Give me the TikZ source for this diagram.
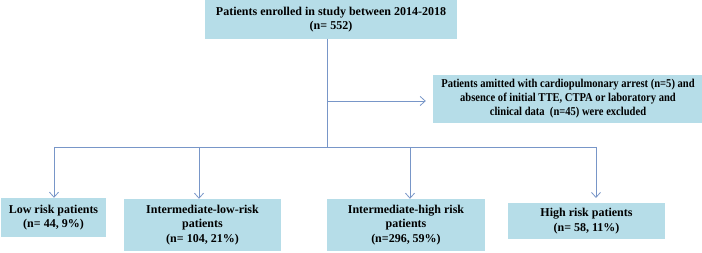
\documentclass[tikz,border=0pt]{standalone}
\usepackage{fontspec}
\setmainfont{Liberation Serif}
\newfontfamily\condfont{Liberation Serif}[FakeStretch=0.88]
\usetikzlibrary{arrows.meta}
\definecolor{boxfill}{RGB}{182,221,232}
\definecolor{linec}{RGB}{120,150,200}
\tikzset{
  box/.style={fill=boxfill, draw=none, align=center, inner sep=0pt,
    font=\rmfamily\bfseries\fontsize{12pt}{14.5pt}\selectfont},
  condbox/.style={box, font=\condfont\bfseries\fontsize{12pt}{14pt}\selectfont},
  conn/.style={draw=linec, line width=0.9pt},
  arr/.style={conn, -{Straight Barb[length=5pt,width=9pt,line width=0.8pt]}}
}
\begin{document}
\begin{tikzpicture}[x=1pt,y=1pt]
\useasboundingbox (0,0) rectangle (702,253);
\node[box, minimum width=252pt, minimum height=39pt] (top) at (331,233.5)
  {Patients enrolled in study between 2014-2018\\(n= 552)};
\node[condbox, minimum width=270pt, minimum height=48pt] (excl) at (568,154)
  {Patients amitted with cardiopulmonary arrest (n=5) and\\absence of initial TTE, CTPA or laboratory and\\clinical data\ \ (n=45) were excluded};
\node[box, minimum width=105pt, minimum height=39pt] (low) at (53.5,35.5)
  {Low risk patients\\(n= 44, 9\%)};
\node[box, minimum width=157pt, minimum height=52pt] (ilow) at (202.5,28)
  {Intermediate-low-risk\\patients\\(n= 104, 21\%)};
\node[box, minimum width=158pt, minimum height=52pt] (ihigh) at (406,28)
  {Intermediate-high risk\\patients\\(n=296, 59\%)};
\node[box, minimum width=157pt, minimum height=36pt] (high) at (586.5,32)
  {High risk patients\\(n= 58, 11\%)};
\coordinate (s) at (327,214);
\coordinate (br) at (327,152);
\coordinate (j) at (327,106);
\coordinate (jl) at (54,106);
\coordinate (j2) at (199,106);
\coordinate (j3) at (410,106);
\coordinate (jr) at (596,106);
\draw[conn] (s) -- (j);
\draw[arr] (br) -- (br -| excl.west) [shorten >=7pt];
\draw[conn] (jl) -- (jr);
\draw[arr] (jl) -- (jl |- low.north);
\draw[arr] (j2) -- (j2 |- ilow.north);
\draw[arr] (j3) -- (j3 |- ihigh.north);
\draw[arr] (jr) -- ++(0,-51);
\end{tikzpicture}
\end{document}
